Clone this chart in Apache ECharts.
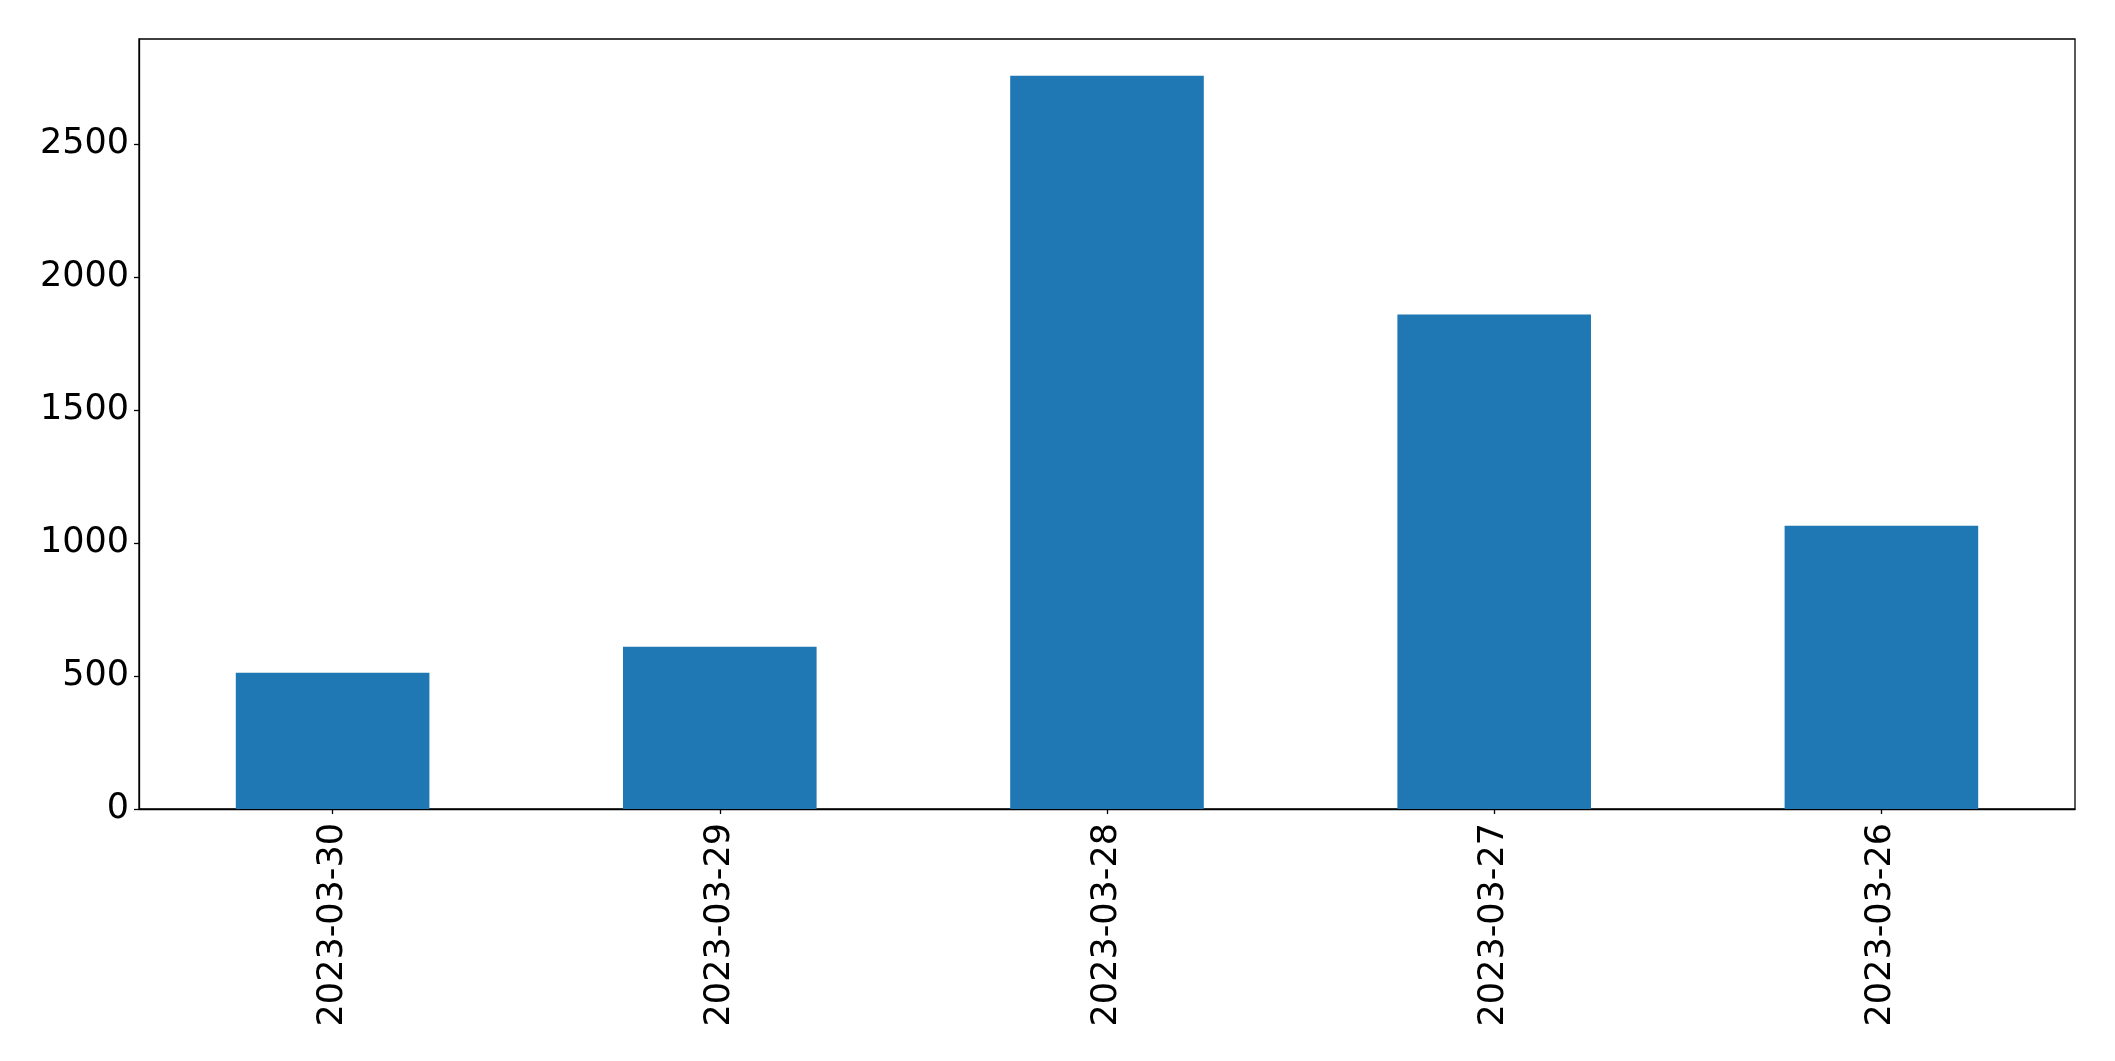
<!DOCTYPE html>
<html>
<head>
<meta charset="utf-8">
<script src="https://cdn.jsdelivr.net/npm/echarts@6/dist/echarts.min.js"></script>
<style>html,body{margin:0;padding:0;background:#fff}#c{width:2115px;height:1061px}</style>
</head>
<body>
<div id="c"></div>
<script>
const categories = ['2023-03-30', '2023-03-29', '2023-03-28', '2023-03-27', '2023-03-26'];
const values = [512, 610, 2757, 1859, 1065];
const yTicks = [0, 500, 1000, 1500, 2000, 2500];
const yMax = 2895;

const chart = echarts.init(document.getElementById('c'), null, {renderer: 'canvas'});
const font = 'DejaVu Sans';
chart.setOption({
  animation: false,
  backgroundColor: '#fff',
  grid: {left: 139, right: 40, top: 39, bottom: 252, show: true, borderColor: '#000', borderWidth: 1.3, backgroundColor: 'transparent'},
  xAxis: {
    type: 'category',
    data: categories,
    boundaryGap: true,
    axisLine: {show: true, lineStyle: {color: '#000', width: 1.3}},
    axisTick: {show: true, alignWithLabel: true, length: 5, lineStyle: {color: '#000', width: 1.3}},
    axisLabel: {rotate: 90, fontFamily: font, fontSize: 35, color: '#000', margin: 14},
    splitLine: {show: false}
  },
  yAxis: {
    type: 'value',
    min: 0,
    max: yMax,
    interval: 500,
    axisLine: {show: true, lineStyle: {color: '#000', width: 1.3}},
    axisTick: {show: true, length: 5, lineStyle: {color: '#000', width: 1.3}, customValues: yTicks},
    axisLabel: {fontFamily: font, fontSize: 35, color: '#000', margin: 10, padding: [4, 0, 0, 0], customValues: yTicks, formatter: v => String(v)},
    splitLine: {show: false}
  },
  series: [{
    type: 'bar',
    data: values,
    barWidth: '50%',
    itemStyle: {color: '#1f77b4'}
  }]
});
</script>
</body>
</html>
